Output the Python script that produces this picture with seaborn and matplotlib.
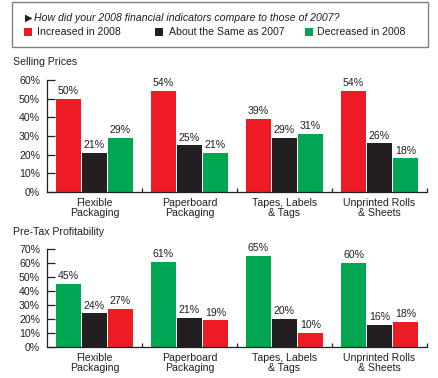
import matplotlib
matplotlib.use("Agg")
import matplotlib.pyplot as plt
from matplotlib.patches import Rectangle
import seaborn as sns
import pandas as pd

# ---- data ----
categories = ["Flexible\nPackaging", "Paperboard\nPackaging", "Tapes, Labels\n& Tags", "Unprinted Rolls\n& Sheets"]
series_names = ["Increased in 2008", "About the Same as 2007", "Decreased in 2008"]

selling_increased = [50, 54, 39, 54]
selling_same = [21, 25, 29, 26]
selling_decreased = [29, 21, 31, 18]

profit_increased = [27, 19, 10, 18]
profit_same = [24, 21, 20, 16]
profit_decreased = [45, 61, 65, 60]

selling_order = ["Increased in 2008", "About the Same as 2007", "Decreased in 2008"]
profit_order = ["Decreased in 2008", "About the Same as 2007", "Increased in 2008"]

colors = {"Increased in 2008": "#ED1C24",
          "About the Same as 2007": "#231F20",
          "Decreased in 2008": "#00A651"}

header_text = "How did your 2008 financial indicators compare to those of 2007?"

sns.set_style("ticks")
plt.rcParams["font.family"] = ["Liberation Sans", "DejaVu Sans"]
TXT = "#231F20"
FS = 7.6


def long_df(inc, same, dec):
    rows = []
    for s, vals in zip(series_names, [inc, same, dec]):
        for c, v in zip(categories, vals):
            rows.append({"category": c, "series": s, "value": v})
    return pd.DataFrame(rows)


fig = plt.figure(figsize=(4.38, 3.78), dpi=100)
W, H = 438.0, 378.0
ax1 = fig.add_axes([47 / W, 1 - 192 / H, 380 / W, 112 / H])
ax2 = fig.add_axes([47 / W, 1 - 347 / H, 380 / W, 98 / H])


def draw(ax, df, order, ymax):
    sns.barplot(data=df, x="category", y="value", hue="series", order=categories,
                hue_order=order, palette=colors, saturation=1, width=0.82, gap=0.055,
                linewidth=0, legend=False, ax=ax)
    for cont in ax.containers:
        ax.bar_label(cont, fmt="%d%%", padding=2, fontsize=FS, color=TXT)
    ax.set_xlim(-0.5, 3.5)
    ax.set_ylim(0, ymax)
    ax.set_yticks(range(0, ymax + 1, 10))
    ax.set_yticklabels([f"{v}%" for v in range(0, ymax + 1, 10)])
    ax.set_xlabel("")
    ax.set_ylabel("")
    for s in ["top", "right"]:
        ax.spines[s].set_visible(False)
    for s in ["left", "bottom"]:
        ax.spines[s].set_linewidth(0.9)
        ax.spines[s].set_color("#231F20")
    ax.tick_params(axis="y", direction="in", length=6, width=0.9, pad=5,
                   labelsize=FS, labelcolor=TXT, color="#231F20")
    ax.tick_params(axis="x", which="major", length=0, pad=4, labelsize=FS, labelcolor=TXT)
    for lab in ax.get_xticklabels():
        lab.set_linespacing(1.0)
    ax.set_xticks([0.5, 1.5, 2.5, 3.5], minor=True)
    ax.tick_params(axis="x", which="minor", direction="in", length=3, width=0.9, color="#231F20")
    ax.set_facecolor("white")


draw(ax1, long_df(selling_increased, selling_same, selling_decreased), selling_order, 60)
draw(ax2, long_df(profit_increased, profit_same, profit_decreased), profit_order, 70)

fig.text(13 / W, 1 - 62 / H, "Selling Prices", ha="left", va="center", fontsize=FS, color=TXT)
fig.text(13 / W, 1 - 232 / H, "Pre-Tax Profitability", ha="left", va="center", fontsize=FS, color=TXT)

# header box
fig.add_artist(Rectangle((12 / W, 1 - 47 / H), 416 / W, 45 / H, transform=fig.transFigure,
                         fill=False, edgecolor="#808080", linewidth=1.0))
fig.text(25 / W, 1 - 18 / H, "\u25B6", ha="left", va="center", fontsize=7, color=TXT,
         family=["DejaVu Sans"])
fig.text(34 / W, 1 - 18 / H, header_text, ha="left", va="center", fontsize=FS,
         style="italic", color=TXT)

# legend row
legend_pos = [(24, 37), (155, 169), (305, 317)]
for name, (px, tx) in zip(series_names, legend_pos):
    fig.add_artist(Rectangle((px / W, 1 - 36 / H), 8 / W, 8 / H, transform=fig.transFigure,
                             facecolor=colors[name], edgecolor="none"))
    fig.text(tx / W, 1 - 32 / H, name, ha="left", va="center", fontsize=FS, color=TXT)

fig.savefig("out.png", dpi=100)
